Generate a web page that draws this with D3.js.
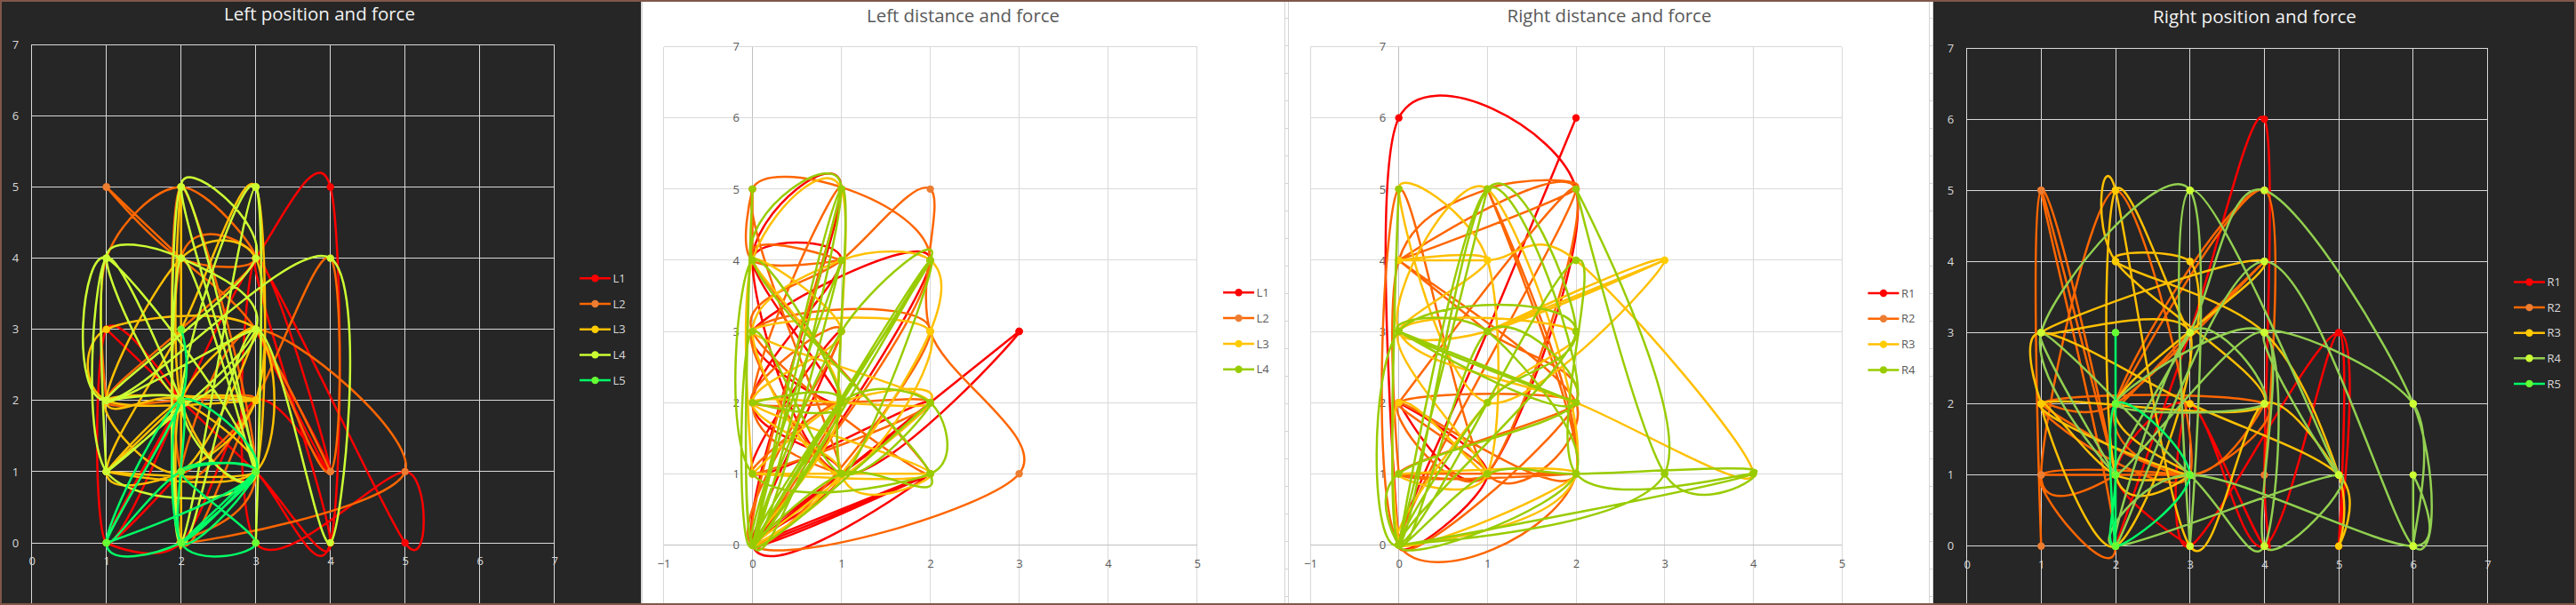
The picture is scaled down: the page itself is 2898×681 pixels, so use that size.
<!DOCTYPE html>
<html><head><meta charset="utf-8">
<script src="https://cdn.jsdelivr.net/npm/d3@7"></script>
<style>html,body{margin:0;padding:0;background:#fff;overflow:hidden}text{font-family:"Open Sans","Noto Sans",sans-serif}</style>
</head><body><svg id="c" width="2898" height="681"></svg>
<script>
// ---------- DATA ----------
const yTicks = [0,1,2,3,4,5,6,7];
const xTicksPos = [0,1,2,3,4,5,6,7];
const xTicksDist = [-1,0,1,2,3,4,5];

const leftNames5 = ["L1","L2","L3","L4","L5"];
const leftNames4 = ["L1","L2","L3","L4"];
const rightNames4 = ["R1","R2","R3","R4"];
const rightNames5 = ["R1","R2","R3","R4","R5"];

// Left position and force  [position, force]
const lpL1 = [[2,2],[1,3],[1,0],[2,2],[1,0],[2,1],[1,0],[2,2],[3,4],[4,5],[4,0],[3,1],[2,2],[1,3],[2,2],[3,1],[4,0],[3,4],[5,0],[5,1],[3,0],[3,4],[4,1],[3,3],[4,1],[3,2],[2,0],[1,0]];
const lpL2 = [[1,2],[1,4],[2,5],[3,4],[2,4],[1,5],[2,4],[3,3],[4,1],[3,3],[2,4],[1,5],[2,4],[3,3],[4,1],[4,4],[3,2],[2,0],[2,4],[3,4],[2,3],[1,2],[2,2],[3,2],[2,1],[3,3],[5,1],[2,0],[3,1],[2,5],[2,1],[3,2]];
const lpL3 = [[1,1],[2,2],[1,1],[2,2],[3,2],[1,2],[1,3],[3,3],[3,1],[1,1],[3,1],[2,2],[1,2],[2,4],[3,4],[3,2],[2,1],[1,1],[2,3],[3,5],[3,1],[2,2],[2,5],[2,0],[2,2],[3,3],[2,1],[1,2],[3,2]];
const lpL4 = [[1,1],[1,4],[2,2],[1,4],[1,1],[3,1],[1,4],[1,2],[4,4],[4,0],[3,3],[2,0],[2,5],[3,1],[2,4],[2,0],[3,5],[3,0],[3,5],[2,2],[3,1],[2,5],[3,4],[1,2],[3,3],[2,2],[1,4],[2,4],[3,3],[1,1],[2,2],[1,2]];
const lpL5 = [[2,3],[2,2],[1,0],[2,1],[3,1],[2,0],[3,1],[2,0],[1,0],[2,2],[2,0],[3,1],[2,1],[3,0],[2,0],[2,2],[3,1],[1,0]];

// Left distance and force  [distance, force]
const ldL1 = [[0,0],[3,3],[0,0],[3,3],[1,1],[0,4],[1,5],[0,0],[2,1],[0,0],[2,2],[0,1],[1,3],[0,0],[2,4],[0,3],[1,2],[0,4],[1,4],[0,2],[1,1],[0,0],[2,1],[0,0]];
const ldL2 = [[0,4],[0,5],[0,4],[1,4],[0,4],[2,1],[0,3],[1,4],[2,5],[2,3],[3,1],[0,0],[1,3],[0,2],[2,2],[0,1],[1,2],[0,0],[2,4],[0,5],[1,1],[0,3],[2,3],[0,0],[1,5],[0,2],[1,1]];
const ldL3 = [[0,1],[0,4],[1,5],[1,1],[2,1],[0,1],[2,1],[0,2],[2,2],[0,3],[2,3],[1,1],[0,3],[1,4],[2,4],[2,3],[1,1],[0,0],[1,2],[0,4],[1,3],[0,2],[1,1],[0,0],[2,2],[1,2],[0,1]];
const ldL4 = [[0,0],[1,5],[0,0],[1,5],[1,1],[2,4],[0,0],[2,4],[0,0],[1,4],[0,0],[0,5],[0,0],[1,2],[2,2],[2,1],[0,1],[0,4],[1,2],[0,2],[1,2],[0,0],[1,3],[2,4],[0,0],[2,2],[1,1],[0,3],[0,0],[1,5],[0,4],[2,1],[1,1],[0,0]];

// Right distance and force  [distance, force]
const rdR1 = [[0,0],[0,6],[2,5],[1,1],[0,2],[1,1],[0,0],[1,3],[2,6]];
const rdR2 = [[0,1],[0,4],[1,5],[2,5],[0,4],[2,5],[1,1],[0,2],[2,2],[0,1],[2,1],[0,1],[1,1],[0,2],[2,1],[1,5],[2,1],[0,0],[0,5],[1,1],[2,2],[0,4],[1,3],[2,2],[0,0],[2,5],[0,2]];
const rdR3 = [[0,0],[2,1],[1,5],[0,3],[2,2],[4,1],[2,4],[1,4],[0,4],[1,4],[0,3],[1,3],[3,4],[1,3],[3,4],[1,2],[0,5],[1,4],[1,1],[0,1],[2,1],[0,0],[1,2],[2,3],[0,3],[1,1],[0,2],[0,0]];
const rdR4 = [[0,0],[1,5],[0,0],[1,5],[2,2],[0,3],[2,2],[0,3],[1,3],[2,1],[0,0],[2,3],[0,3],[0,0],[2,4],[2,1],[4,1],[3,1],[2,5],[3,1],[0,0],[4,1],[2,1],[1,1],[0,0],[1,2],[2,3],[1,5],[0,0],[0,5],[0,0],[1,3],[2,2],[0,1],[0,0]];

// Right position and force  [position, force]
const rpR1 = [[2,0],[3,3],[4,6],[4,1],[4,0],[3,2],[3,0],[5,3],[5,0],[5,3],[4,0],[3,2],[2,1],[3,0]];
const rpR2 = [[1,0],[1,5],[2,1],[1,5],[2,0],[1,1],[3,1],[1,1],[2,1],[1,1],[2,5],[3,1],[1,2],[4,2],[3,1],[2,2],[4,5],[4,1],[4,5],[2,2],[3,3],[4,4],[2,2],[1,2],[3,1],[4,2]];
const rpR3 = [[1,2],[1,3],[3,2],[5,1],[5,0],[5,1],[4,3],[2,4],[3,4],[3,3],[2,5],[2,1],[3,1],[2,1],[1,2],[2,0],[3,3],[1,3],[4,4],[2,2],[3,1],[1,2],[4,2],[2,4],[2,5],[3,0],[4,2],[5,1]];
const rpR4 = [[2,1],[1,3],[3,5],[3,0],[3,5],[5,1],[4,3],[6,2],[6,0],[6,1],[6,0],[3,1],[2,0],[5,1],[4,0],[4,3],[2,1],[3,3],[4,5],[6,2],[6,0],[4,4],[2,0],[3,3],[4,2],[2,2],[4,3],[4,0],[3,1],[1,3],[2,1]];
const rpR5 = [[2,3],[2,0],[2,2],[3,1],[2,0],[2,1],[2,3],[2,2]];

// ---------- STYLE ----------
const DARK = {bg:"#262626", grid:"#D9D9D9", axis:"#D9D9D9", text:"#D9D9D9", title:"#F2F2F2"};
const LIGHT = {bg:"#FFFFFF", grid:"#D9D9D9", axis:"#BFBFBF", text:"#595959", title:"#595959"};
const lineDark5 = ["#FF0000","#FF6600","#FFC000","#CCFF33","#00FF66"];
const markDark5 = ["#FF0000","#ED7D31","#FFCC00","#CCFF33","#66FF33"];
const lineRight5 = ["#FF0000","#FF6600","#FFC000","#92D050","#00FF66"];
const markRight5 = ["#FF0000","#ED7D31","#FFCC00","#CCFF33","#66FF33"];
const lineLight4 = ["#FF0000","#FF6600","#FFC000","#99CC00"];
const markLight4 = ["#FF0000","#ED7D31","#FFCC00","#99CC00"];

const panels = [
  {title:"Left position and force", th:DARK, bg:[2,721], xd:[0,7], xr:[35.7,623.7], yr:[611,50.3], xt:xTicksPos,
   tx:359.5, ty:22.6, tw:215, names:leftNames5, data:[lpL1,lpL2,lpL3,lpL4,lpL5], lc:lineDark5, mc:markDark5,
   lx:652, ly:313.3, ldy:28.7},
  {title:"Left distance and force", th:LIGHT, bg:[723,1445], xd:[-1,5], xr:[746.5,1346.6], yr:[613.4,52.6], xt:xTicksDist,
   tx:1083.5, ty:25.2, tw:217, names:leftNames4, data:[ldL1,ldL2,ldL3,ldL4], lc:lineLight4, mc:markLight4,
   lx:1376, ly:329.3, ldy:28.8},
  {title:"Right distance and force", th:LIGHT, bg:[1450,2170], xd:[-1,5], xr:[1474,2072], yr:[613.4,52.6], xt:xTicksDist,
   tx:1810.5, ty:25.2, tw:230, names:rightNames4, data:[rdR1,rdR2,rdR3,rdR4], lc:lineLight4, mc:markLight4,
   lx:2101.4, ly:330, ldy:28.8},
  {title:"Right position and force", th:DARK, bg:[2175,2896], xd:[0,7], xr:[2212.6,2798.5], yr:[614.7,54], xt:xTicksPos,
   tx:2536.5, ty:26.4, tw:229, names:rightNames5, data:[rpR1,rpR2,rpR3,rpR4,rpR5], lc:lineRight5, mc:markRight5,
   lx:2828, ly:317.5, ldy:28.6}
];

const svg = d3.select("#c");
svg.append("rect").attr("x",0).attr("y",0).attr("width",2898).attr("height",681).attr("fill","#FFFFFF");

// spreadsheet cell edges showing between charts
function cellGap(x0, x1){
  const g = svg.append("g").attr("stroke","#D4D4D4").attr("stroke-width",1);
  g.append("line").attr("x1",x0).attr("x2",x0).attr("y1",0).attr("y2",681);
  g.append("line").attr("x1",x1).attr("x2",x1).attr("y1",0).attr("y2",681);
  d3.range(20.5, 681, 31).forEach(yy=>{
    g.append("line").attr("x1",x0).attr("x2",x1).attr("y1",yy).attr("y2",yy);
  });
}
cellGap(1445.5,1449.5);
cellGap(2170.5,2174.5);
svg.append("line").attr("x1",722).attr("x2",722).attr("y1",0).attr("y2",681).attr("stroke","#D9D9D9").attr("stroke-width",2);

const BOTTOM = 679;

panels.forEach(p=>{
  const th = p.th;
  const g = svg.append("g");
  const x = d3.scaleLinear().domain(p.xd).range(p.xr);
  const y = d3.scaleLinear().domain([0,7]).range(p.yr);
  g.append("rect").attr("x",p.bg[0]).attr("y",2).attr("width",p.bg[1]-p.bg[0]).attr("height",677).attr("fill",th.bg);

  // gridlines
  const grid = g.append("g").attr("stroke",th.grid).attr("stroke-width",1).attr("shape-rendering","crispEdges");
  p.xt.forEach(v=>{
    grid.append("line").attr("x1",x(v)).attr("x2",x(v)).attr("y1",y(7)).attr("y2",BOTTOM)
      .attr("stroke", v===0 ? th.axis : th.grid);
  });
  yTicks.forEach(v=>{
    grid.append("line").attr("x1",x(p.xd[0])).attr("x2",x(p.xd[1])).attr("y1",y(v)).attr("y2",y(v))
      .attr("stroke", v===0 ? th.axis : th.grid);
  });

  // axes labels (drawn with d3 axes, no tick lines)
  const ax = g.append("g").attr("transform",`translate(0,${y(0)})`)
    .call(d3.axisBottom(x).tickValues(p.xt).tickSize(0).tickPadding(16).tickFormat(d3.format("d")));
  ax.select(".domain").remove();
  ax.selectAll("text").attr("fill",th.text).attr("font-size",13).attr("font-family",'"Open Sans","Noto Sans",sans-serif');
  const ay = g.append("g").attr("transform",`translate(${x(0)},0)`)
    .call(d3.axisLeft(y).tickValues(yTicks).tickSize(0).tickPadding(14.5).tickFormat(d3.format("d")));
  ay.select(".domain").remove();
  ay.selectAll("text").attr("fill",th.text).attr("font-size",13).attr("font-family",'"Open Sans","Noto Sans",sans-serif');

  // series
  const line = d3.line().x(d=>x(d[0])).y(d=>y(d[1])).curve(d3.curveCardinal.tension(0));
  p.data.forEach((s,i)=>{
    g.append("path").attr("d",line(s)).attr("fill","none").attr("stroke",p.lc[i])
      .attr("stroke-width",2.5).attr("stroke-linejoin","round").attr("stroke-linecap","round");
    g.append("g").selectAll("circle").data(s).join("circle")
      .attr("cx",d=>x(d[0])).attr("cy",d=>y(d[1])).attr("r",4.2).attr("fill",p.mc[i]);
  });

  // legend
  p.names.forEach((n,i)=>{
    const yy = p.ly + i*p.ldy;
    g.append("line").attr("x1",p.lx).attr("x2",p.lx+35).attr("y1",yy).attr("y2",yy)
      .attr("stroke",p.lc[i]).attr("stroke-width",2.5);
    g.append("circle").attr("cx",p.lx+17.5).attr("cy",yy).attr("r",4.2).attr("fill",p.mc[i]);
    g.append("text").attr("x",p.lx+37.5).attr("y",yy+4.6).attr("fill",th.text).attr("font-size",13).text(n);
  });

  // title, fitted to the measured width
  const t = g.append("text").attr("x",p.tx).attr("y",p.ty).attr("text-anchor","middle")
    .attr("fill",th.title).attr("font-size",20).text(p.title);
  const w = t.node().getComputedTextLength();
  if (w>0) t.attr("font-size", 20*p.tw/w);
});

// outer border
svg.append("rect").attr("x",1).attr("y",1).attr("width",2896).attr("height",679)
  .attr("fill","none").attr("stroke","#80574A").attr("stroke-width",2);
</script></body></html>
